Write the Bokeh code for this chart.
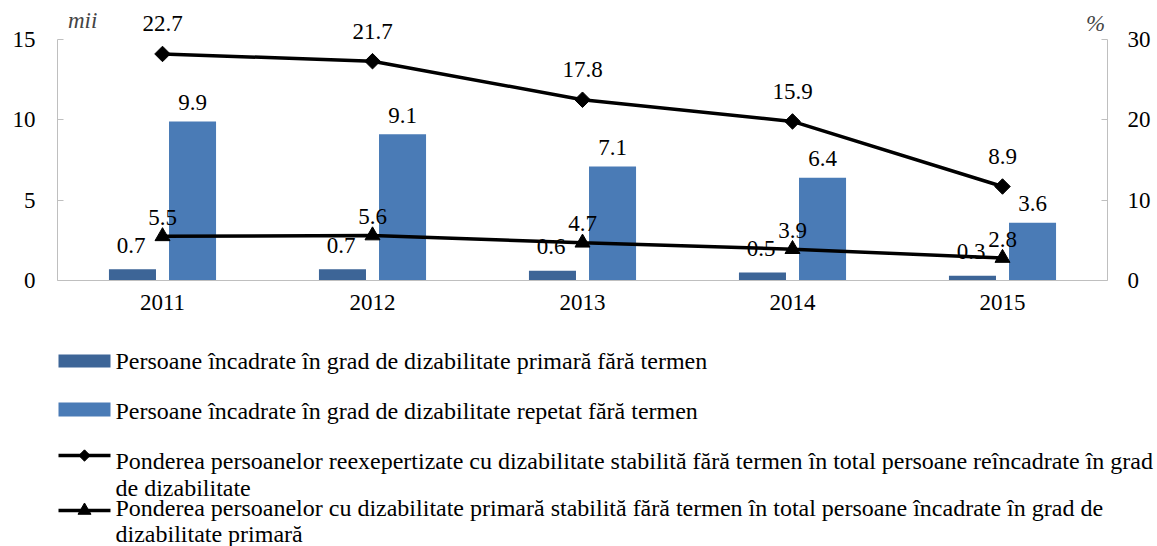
import numpy as np
from bokeh.plotting import figure
from bokeh.models import (ColumnDataSource, Range1d, LinearAxis, FixedTicker, Label, LabelSet)
from bokeh.transform import dodge
from bokeh.core.properties import value
from bokeh.layouts import column
from bokeh.embed import file_html
from bokeh.resources import INLINE

# ---- data ----
years = ["2011", "2012", "2013", "2014", "2015"]
primary_no_term = [0.7, 0.7, 0.6, 0.5, 0.3]          # mii
repeat_no_term = [9.9, 9.1, 7.1, 6.4, 3.6]           # mii
share_reexpert = [22.7, 21.7, 17.8, 15.9, 8.9]       # %
share_primary = [5.5, 5.6, 4.7, 3.9, 2.8]            # %

left_ticks = [0, 5, 10, 15]
right_ticks = [0, 10, 20, 30]

legend_labels = [
    ["Persoane încadrate în grad de dizabilitate primară fără termen"],
    ["Persoane încadrate în grad de dizabilitate repetat fără termen"],
    ["Ponderea persoanelor reexepertizate cu dizabilitate stabilită fără termen în total persoane reîncadrate în grad",
     "de dizabilitate"],
    ["Ponderea persoanelor cu dizabilitate primară stabilită fără termen în total persoane încadrate în grad de",
     "dizabilitate primară"],
]

FONT = "'Liberation Serif', 'Times New Roman', serif"
FS = "23px"
LFS = "24px"
DARK = "#3D6597"
LIGHT = "#4A7BB6"
AXIS_C = "#BFBFBF"

# stacked line positions (Excel stacked line)
stack_primary = np.array(share_primary)
stack_reexpert = stack_primary + np.array(share_reexpert)

src = ColumnDataSource(dict(
    year=years,
    prim=primary_no_term,
    rep=repeat_no_term,
    prim_lbl=[f"{v:.1f}" for v in primary_no_term],
    rep_lbl=[f"{v:.1f}" for v in repeat_no_term],
    tri=stack_primary.tolist(),
    dia=stack_reexpert.tolist(),
    tri_lbl=[f"{v:.1f}" for v in share_primary],
    dia_lbl=[f"{v:.1f}" for v in share_reexpert],
))

px_per_unit = 241.0 / 15.0
ytop = 272.0 / px_per_unit

BL, BR = 57, 50
FW = 1050

p = figure(x_range=years, y_range=Range1d(0, ytop),
           frame_width=FW, frame_height=272,
           output_backend="svg", toolbar_location=None,
           min_border_left=BL, min_border_right=BR,
           min_border_top=8, min_border_bottom=48)
p.extra_y_ranges = {"pct": Range1d(0, ytop * 2)}
p.x_range.range_padding = 0
p.outline_line_color = None
p.xgrid.grid_line_color = None
p.ygrid.grid_line_color = None
p.background_fill_color = None
p.border_fill_color = None

# left axis
ly = p.yaxis[0]
ly.ticker = FixedTicker(ticks=left_ticks)
ly.bounds = (0, 15)
ly.axis_line_color = AXIS_C
ly.major_tick_line_color = AXIS_C
ly.major_tick_in = 6
ly.major_tick_out = 0
ly.minor_tick_line_color = None
ly.major_label_standoff = 22
ly.major_label_text_font = FONT
ly.major_label_text_font_size = FS
ly.major_label_text_color = "black"

ry = LinearAxis(y_range_name="pct", ticker=FixedTicker(ticks=right_ticks), bounds=(0, 30))
ry.axis_line_color = AXIS_C
ry.major_tick_line_color = AXIS_C
ry.major_tick_in = 6
ry.major_tick_out = 0
ry.minor_tick_line_color = None
ry.major_label_standoff = 20
ry.major_label_text_font = FONT
ry.major_label_text_font_size = FS
ry.major_label_text_color = "black"
p.add_layout(ry, "right")

xa = p.xaxis[0]
xa.axis_line_color = AXIS_C
xa.major_tick_line_color = None
xa.minor_tick_line_color = None
xa.major_label_standoff = 8
xa.major_label_text_font = FONT
xa.major_label_text_font_size = FS
xa.major_label_text_color = "black"

# bars
p.vbar(x=dodge("year", -0.143, range=p.x_range), top="prim", width=0.224,
       source=src, fill_color=DARK, line_color=None)
p.vbar(x=dodge("year", 0.143, range=p.x_range), top="rep", width=0.224,
       source=src, fill_color=LIGHT, line_color=None)

# lines
p.line(x="year", y="dia", source=src, y_range_name="pct", line_color="black", line_width=3.5)
p.scatter(x="year", y="dia", source=src, y_range_name="pct", marker="square",
          angle=np.pi / 4, size=11, fill_color="black", line_color="black")
p.line(x="year", y="tri", source=src, y_range_name="pct", line_color="black", line_width=3.5)
p.scatter(x="year", y="tri", source=src, y_range_name="pct", marker="triangle",
          size=15, fill_color="black", line_color="black")

# data labels (annotations)
common = dict(text_font=value(FONT), text_font_size=value(FS), text_color="black",
              text_align="center", text_baseline="middle", source=src)
p.add_layout(LabelSet(x=dodge("year", -0.15, range=p.x_range), y="prim", text="prim_lbl",
                      y_offset=24, **common))
p.add_layout(LabelSet(x=dodge("year", 0.143, range=p.x_range), y="rep", text="rep_lbl",
                      y_offset=19, **common))
p.add_layout(LabelSet(x="year", y="tri", text="tri_lbl", y_offset=19, y_range_name="pct", **common))
p.add_layout(LabelSet(x="year", y="dia", text="dia_lbl", y_offset=30, y_range_name="pct", **common))

# unit labels
p.add_layout(Label(x=0.05, y=(272 - 12) / px_per_unit, text="mii", text_font=FONT,
                   text_font_size=FS, text_font_style="italic", text_baseline="middle",
                   text_align="left"))
p.add_layout(Label(x=(1095 - 57) / 210.0, y=(272 - 15) / px_per_unit, text="%", text_font=FONT,
                   text_font_size=FS, text_font_style="italic", text_baseline="middle",
                   text_align="center"))

# ---- legend figure (left edge aligned with main frame; x in page pixels) ----
LH = 218
LFW = FW + BR
lg = figure(x_range=Range1d(BL, BL + LFW), y_range=Range1d(LH, 0),
            frame_width=LFW, frame_height=LH, output_backend="svg",
            toolbar_location=None, min_border_left=BL, min_border_right=0,
            min_border_top=0, min_border_bottom=0)
lg.axis.visible = False
lg.grid.visible = False
lg.outline_line_color = None
lg.background_fill_color = None
lg.border_fill_color = None

sw_left, sw_right = 58, 110
lg.quad(left=[sw_left], right=[sw_right], top=[26], bottom=[39], fill_color=DARK, line_color=None)
lg.quad(left=[sw_left], right=[sw_right], top=[74], bottom=[88], fill_color=LIGHT, line_color=None)
lg.line(x=[sw_left, sw_right], y=[127, 127], line_color="black", line_width=3.5)
lg.scatter(x=[(sw_left + sw_right) / 2], y=[127], marker="square", angle=np.pi / 4, size=8,
           fill_color="black", line_color="black")
lg.line(x=[sw_left, sw_right], y=[182, 182], line_color="black", line_width=3.5)
lg.scatter(x=[(sw_left + sw_right) / 2], y=[182], marker="triangle", size=13,
           fill_color="black", line_color="black")

row_y = [[32], [82], [132, 159], [179, 205]]
for labels, ys in zip(legend_labels, row_y):
    for t, yy in zip(labels, ys):
        lg.add_layout(Label(x=115, y=yy, text=t, text_font=FONT, text_font_size=LFS,
                            text_color="black", text_align="left", text_baseline="middle"))

layout = column(p, lg, spacing=0)
open("out.html", "w").write(file_html(layout, INLINE))
